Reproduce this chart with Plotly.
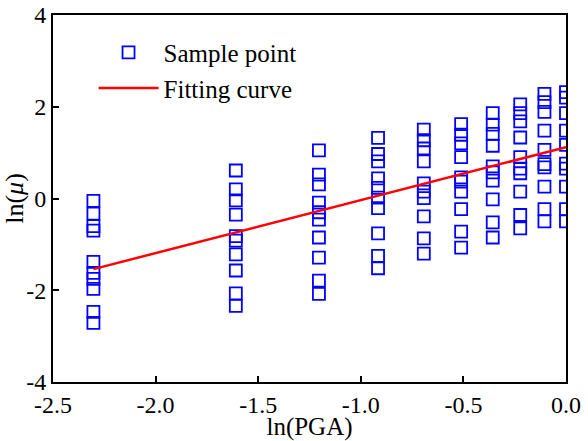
import plotly.graph_objects as go

# ln(PGA) columns
x_cols = [-2.303, -1.609, -1.204, -0.916, -0.693, -0.511, -0.357, -0.223, -0.105, 0.0]

# ln(mu) sample values for each column
y_c1 = [-0.05, -0.33, -0.60, -0.70, -1.38, -1.62, -1.75, -1.97, -2.47, -2.71]
y_c2 = [0.61, 0.20, -0.04, -0.35, -0.82, -0.92, -1.22, -1.57, -2.07, -2.34]
y_c3 = [1.05, 0.52, 0.31, -0.09, -0.30, -0.46, -0.85, -1.29, -1.79, -2.08]
y_c4 = [1.32, 0.97, 0.81, 0.44, 0.23, 0.02, -0.21, -0.76, -1.25, -1.52]
y_c5 = [1.50, 1.27, 1.09, 0.81, 0.33, 0.15, 0.01, -0.39, -0.87, -1.20]
y_c6 = [1.62, 1.39, 1.20, 0.90, 0.46, 0.37, 0.15, -0.23, -0.72, -1.07]
y_c7 = [1.86, 1.61, 1.41, 1.15, 0.70, 0.57, 0.39, -0.02, -0.52, -0.85]
y_c8 = [2.05, 1.86, 1.68, 1.33, 0.90, 0.65, 0.55, 0.15, -0.36, -0.65]
y_c9 = [2.28, 2.10, 1.89, 1.48, 1.06, 0.75, 0.68, 0.26, -0.23, -0.50]
y_c10 = [2.32, 2.20, 1.86, 1.48, 1.17, 0.76, 0.65, 0.26, -0.23, -0.50]
y_cols = [y_c1, y_c2, y_c3, y_c4, y_c5, y_c6, y_c7, y_c8, y_c9, y_c10]

# fitted line end points
fit_x = [-2.303, 0.0]
fit_y = [-1.54, 1.12]

# tick labels
x_tickvals = [-2.5, -2.0, -1.5, -1.0, -0.5, 0.0]
x_ticktext = ["-2.5", "-2.0", "-1.5", "-1.0", "-0.5", "0.0"]
y_tickvals = [-4, -2, 0, 2, 4]
y_ticktext = ["-4", "-2", "0", "2", "4"]

xs, ys = [], []
for xv, col in zip(x_cols, y_cols):
    xs += [xv] * len(col)
    ys += col

FONT = "Liberation Serif, Times New Roman, serif"

fig = go.Figure()
fig.add_trace(go.Scatter(
    x=xs, y=ys, mode="markers", name="Sample point",
    marker=dict(symbol="square-open", size=12, color="#0000ff",
                line=dict(width=1.8, color="#0000ff")),
))
fig.add_trace(go.Scatter(
    x=fit_x, y=fit_y, mode="lines", name="Fitting curve",
    line=dict(color="#ff0000", width=2.5),
))

axis_common = dict(
    showline=True, linecolor="black", linewidth=2, mirror=True,
    ticks="inside", ticklen=6, tickwidth=1.5, tickcolor="black",
    showgrid=False, zeroline=False,
    tickfont=dict(family=FONT, size=24, color="black"),
)

fig.update_layout(
    width=588, height=441,
    margin=dict(l=53, r=22, t=15, b=59, autoexpand=False),
    paper_bgcolor="white", plot_bgcolor="white",
    font=dict(family=FONT, size=24, color="black"),
    showlegend=True,
    legend=dict(x=0.079, y=0.96, xanchor="left", yanchor="top",
                bgcolor="rgba(0,0,0,0)", itemwidth=60,
                font=dict(family=FONT, size=25, color="black"),
                tracegroupgap=0),
    xaxis=dict(range=[-2.5, 0.0], tickvals=x_tickvals, ticktext=x_ticktext,
               title=dict(text="ln(PGA)", font=dict(family=FONT, size=25), standoff=0),
               **axis_common),
    yaxis=dict(range=[-4, 4], tickvals=y_tickvals, ticktext=y_ticktext,
               title=dict(text="ln(<i>μ</i>)", font=dict(family=FONT, size=26), standoff=0),
               **axis_common),
)

fig.write_html(
    "out.html",
    config={"displayModeBar": False},
    post_script="document.body.style.margin='0';document.body.style.overflow='hidden';",
)
